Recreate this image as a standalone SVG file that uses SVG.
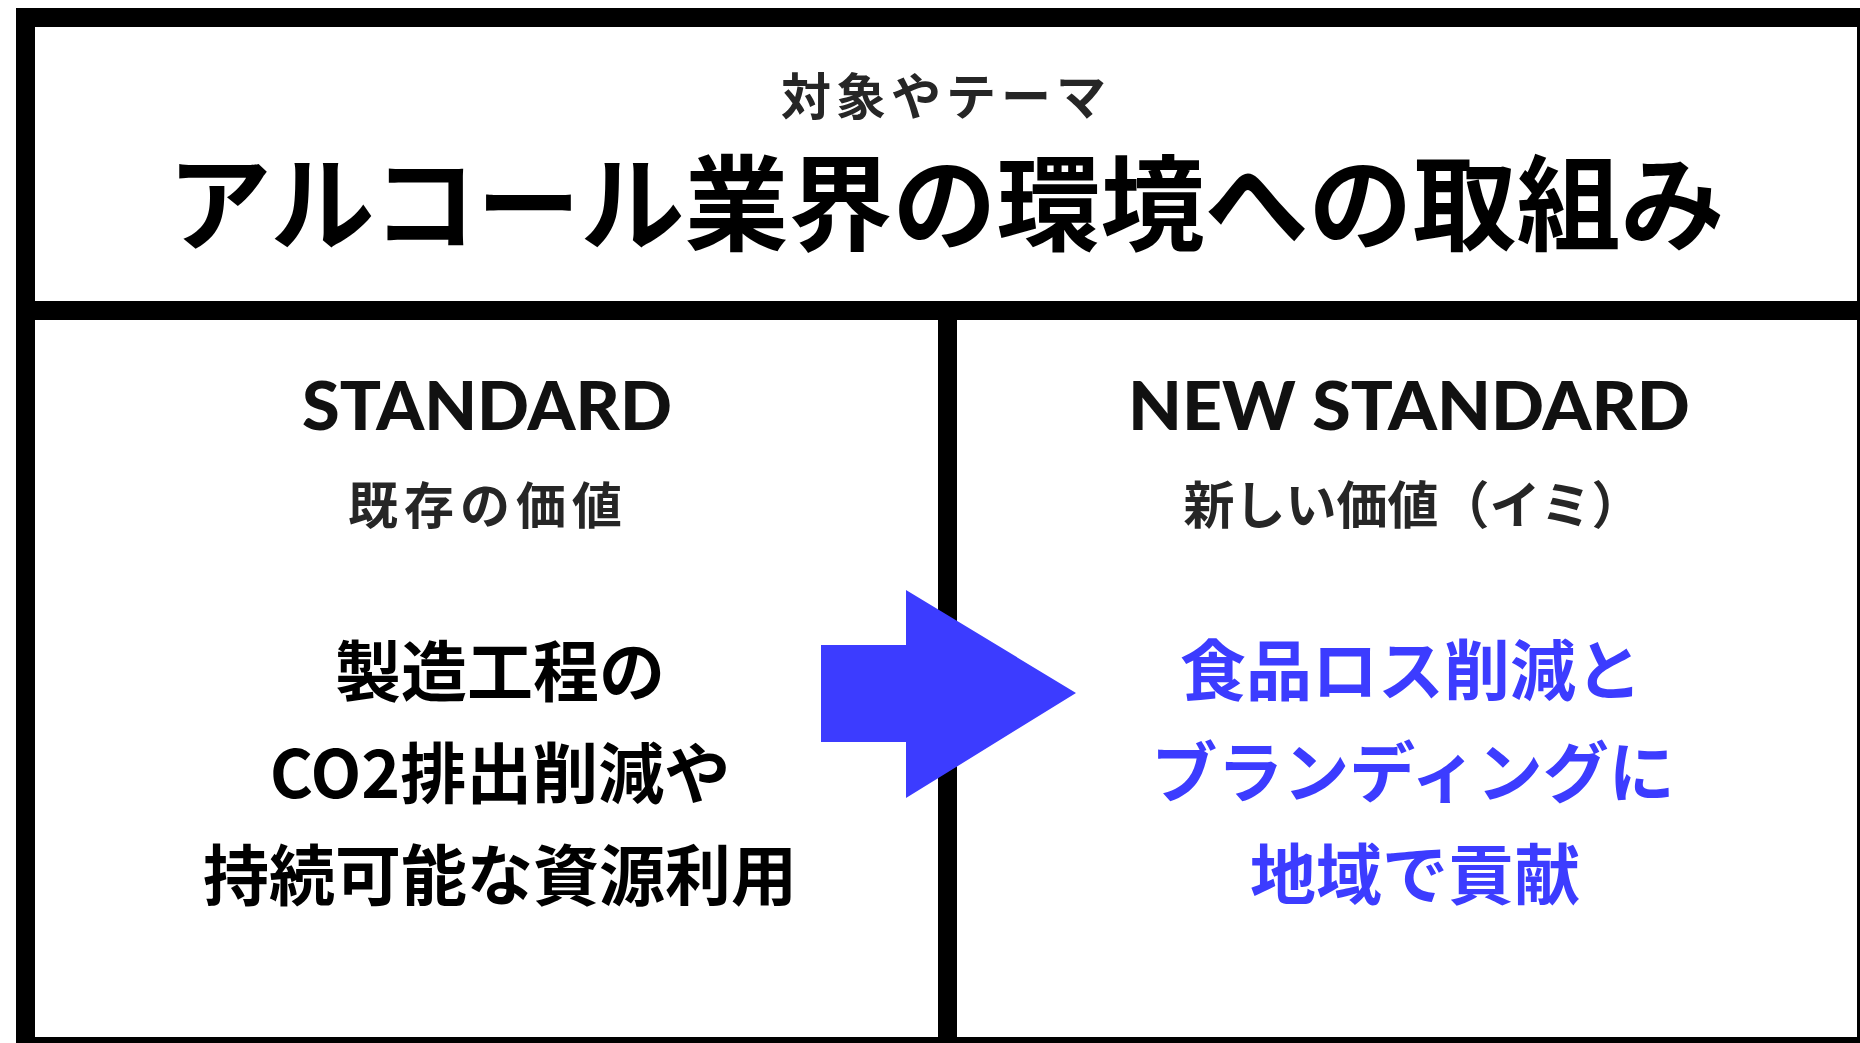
<svg xmlns="http://www.w3.org/2000/svg" width="1860" height="1043" viewBox="0 0 1860 1043">
<style>
.frame{fill:none;stroke:#000;stroke-width:19}
.line{stroke:#000;stroke-width:19}
.jp{font-family:"Noto Sans CJK JP","Noto Sans CJK SC",sans-serif}
.en{font-family:"Lato","Liberation Sans",sans-serif;font-weight:900;font-size:67px;fill:#111}
.sub{font-size:50px;font-weight:700;fill:#262626}
.body{font-size:66px;font-weight:700}
.blue{fill:#3c3cff}
</style>
<rect width="1860" height="1043" fill="#fff"/>
<g id="frame">
<rect class="frame" x="25.5" y="17.5" width="1841" height="1029"/>
<line class="line" x1="16" y1="310.5" x2="1876" y2="310.5"/>
<line class="line" x1="947.5" y1="310" x2="947.5" y2="1056"/>
</g>
<g id="header">
<text class="jp" x="946" y="115" text-anchor="middle" font-size="50" font-weight="700" fill="#262626" letter-spacing="5">対象やテーマ</text>
<text class="jp" x="946" y="243" text-anchor="middle" font-size="104" font-weight="700" fill="#000">アルコール業界の環境への取組み</text>
</g>
<g id="standard">
<text class="en" x="487" y="430" text-anchor="middle" textLength="370" lengthAdjust="spacingAndGlyphs">STANDARD</text>
<text class="jp sub" x="488" y="524" text-anchor="middle" style="letter-spacing:6px">既存の価値</text>
<text class="jp body" x="500" y="696" text-anchor="middle">製造工程の</text>
<text class="jp body" x="500" y="798" text-anchor="middle">CO2排出削減や</text>
<text class="jp body" x="500" y="900" text-anchor="middle">持続可能な資源利用</text>
</g>
<g id="new-standard">
<text class="en" x="1409" y="430" text-anchor="middle" textLength="562" lengthAdjust="spacingAndGlyphs">NEW STANDARD</text>
<text class="jp sub" x="1413" y="524" text-anchor="middle" style="letter-spacing:0px;font-size:51px">新しい価値（イミ）</text>
<text class="jp body blue" x="1411" y="695" text-anchor="middle">食品ロス削減と</text>
<text class="jp body blue" x="1413" y="797" text-anchor="middle">ブランディングに</text>
<text class="jp body blue" x="1415" y="899" text-anchor="middle">地域で貢献</text>
</g>
<g id="connectors">
<polygon points="821,645 906,645 906,590 1076,693 906,798 906,742 821,742" fill="#3c3cff"/>
</g>
</svg>
